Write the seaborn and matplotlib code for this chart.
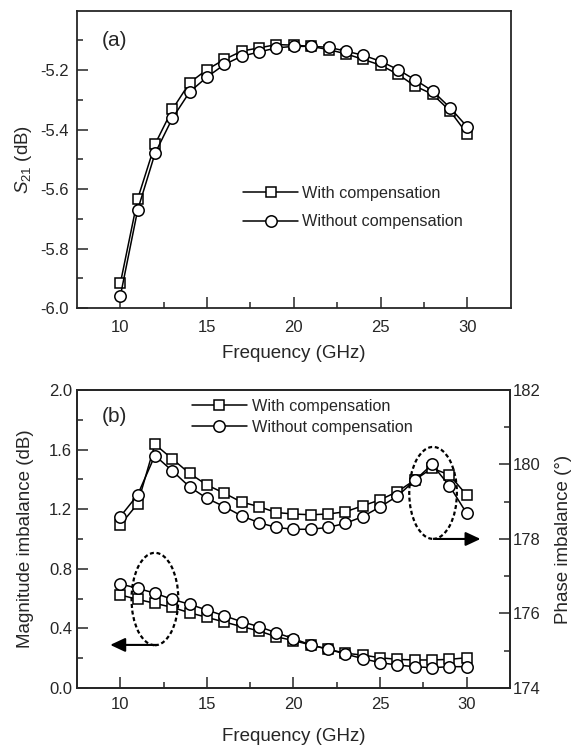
import numpy as np
import pandas as pd
import matplotlib
matplotlib.use("Agg")
import matplotlib.pyplot as plt
import seaborn as sns
from matplotlib.patches import Ellipse
from matplotlib.ticker import MultipleLocator, FixedLocator, FormatStrFormatter

# ---------------- data ----------------
freq = list(range(10, 31))

s21_with = [-5.917, -5.633, -5.449, -5.332, -5.242, -5.198, -5.164, -5.136, -5.125, -5.114,
            -5.116, -5.120, -5.131, -5.145, -5.164, -5.183, -5.214, -5.254, -5.281, -5.337, -5.415]
s21_without = [-5.960, -5.670, -5.480, -5.362, -5.273, -5.223, -5.181, -5.153, -5.139, -5.125,
               -5.120, -5.120, -5.123, -5.136, -5.150, -5.170, -5.198, -5.233, -5.270, -5.326, -5.391]

mag_with = [0.624, 0.595, 0.568, 0.541, 0.505, 0.474, 0.443, 0.412, 0.383, 0.344,
            0.318, 0.289, 0.260, 0.233, 0.221, 0.203, 0.192, 0.188, 0.188, 0.192, 0.203]
mag_without = [0.698, 0.669, 0.636, 0.595, 0.562, 0.523, 0.485, 0.445, 0.412, 0.371,
               0.331, 0.289, 0.260, 0.228, 0.197, 0.170, 0.154, 0.143, 0.136, 0.143, 0.143]

phase_with = [178.38, 178.94, 180.54, 180.15, 179.76, 179.45, 179.23, 178.99, 178.87, 178.71,
              178.67, 178.65, 178.67, 178.73, 178.89, 179.05, 179.27, 179.58, 179.90, 179.72, 179.18]
phase_without = [178.60, 179.18, 180.24, 179.83, 179.40, 179.09, 178.87, 178.62, 178.44, 178.31,
                 178.26, 178.26, 178.31, 178.42, 178.60, 178.86, 179.15, 179.57, 180.00, 179.43, 178.69]

labels = ["With compensation", "Without compensation"]

# ---------------- style ----------------
sns.set_style("ticks")
plt.rcParams["font.family"] = ["Liberation Sans", "DejaVu Sans"]
plt.rcParams["mathtext.fontset"] = "custom"
plt.rcParams["mathtext.rm"] = "Liberation Sans"
plt.rcParams["mathtext.it"] = "Liberation Sans:italic"
plt.rcParams["axes.unicode_minus"] = False
plt.rcParams["axes.linewidth"] = 1.3
plt.rcParams["xtick.direction"] = "in"
plt.rcParams["ytick.direction"] = "in"

TICK_FS = 12
LABEL_FS = 13.5
LEG_FS = 11.7

fig = plt.figure(figsize=(5.77, 7.47), dpi=100)
ax1 = fig.add_axes([0.1334, 0.5877, 0.7516, 0.3980])
ax = fig.add_axes([0.1334, 0.0790, 0.7504, 0.3990])

sq_kw = dict(marker="s", markersize=7.6, markerfacecolor="white", markeredgecolor="black",
             markeredgewidth=1.1, color="black", linewidth=1.1)
ci_kw = dict(marker="o", markersize=8.2, markerfacecolor="white", markeredgecolor="black",
             markeredgewidth=1.1, color="black", linewidth=1.1)

def style_ticks(a):
    a.tick_params(axis="both", which="major", length=8, width=1.1, labelsize=TICK_FS)
    a.tick_params(axis="both", which="minor", length=4, width=1.1)

# ---------------- panel (a) ----------------
df_a = pd.DataFrame({"f": freq, "with": s21_with, "without": s21_without})
sns.lineplot(data=df_a, x="f", y="with", ax=ax1, label=labels[0], legend=False, **sq_kw)
sns.lineplot(data=df_a, x="f", y="without", ax=ax1, label=labels[1], legend=False, **ci_kw)
ax1.set_xlim(7.5, 32.5)
ax1.set_ylim(-6.0, -5.0)
ax1.xaxis.set_major_locator(FixedLocator([10, 15, 20, 25, 30]))
ax1.xaxis.set_minor_locator(FixedLocator([12.5, 17.5, 22.5, 27.5]))
ax1.yaxis.set_major_locator(FixedLocator([-6.0, -5.8, -5.6, -5.4, -5.2]))
ax1.yaxis.set_minor_locator(FixedLocator([-5.9, -5.7, -5.5, -5.3, -5.1]))
ax1.yaxis.set_major_formatter(FormatStrFormatter("%.1f"))
style_ticks(ax1)
ax1.tick_params(top=False, right=False, which="both")
ax1.tick_params(axis="x", which="major", pad=9)
ax1.tick_params(axis="y", which="major", pad=6)
for sp in ax1.spines.values():
    sp.set_visible(True)
    sp.set_linewidth(1.3)
ax1.set_xlabel("Frequency (GHz)", fontsize=LABEL_FS, labelpad=7)
ax1.set_ylabel(r"$S_{21}$ (dB)", fontsize=LABEL_FS)
ax1.yaxis.set_label_coords(-0.10, 0.5)
ax1.text(0.057, 0.90, "(a)", transform=ax1.transAxes, fontsize=15, va="center", ha="left")
h, l = ax1.get_legend_handles_labels()
ax1.legend(h, l, loc="center left", bbox_to_anchor=(0.383, 0.338), frameon=False,
           fontsize=LEG_FS, handlelength=3.4, handletextpad=0.25, labelspacing=0.83,
           borderpad=0, borderaxespad=0)

# ---------------- panel (b) ----------------
df_b = pd.DataFrame({"f": freq, "mw": mag_with, "mo": mag_without,
                     "pw": phase_with, "po": phase_without})
ax2 = ax.twinx()
sns.lineplot(data=df_b, x="f", y="mw", ax=ax, label=labels[0], legend=False, **sq_kw)
sns.lineplot(data=df_b, x="f", y="mo", ax=ax, label=labels[1], legend=False, **ci_kw)
sns.lineplot(data=df_b, x="f", y="pw", ax=ax2, legend=False, **sq_kw)
sns.lineplot(data=df_b, x="f", y="po", ax=ax2, legend=False, **ci_kw)

ax.set_xlim(7.5, 32.5)
ax.set_ylim(0.0, 2.0)
ax2.set_ylim(174, 182)
ax.xaxis.set_major_locator(FixedLocator([10, 15, 20, 25, 30]))
ax.xaxis.set_minor_locator(FixedLocator([12.5, 17.5, 22.5, 27.5]))
ax.yaxis.set_major_locator(MultipleLocator(0.4))
ax.yaxis.set_minor_locator(MultipleLocator(0.2))
ax.yaxis.set_major_formatter(FormatStrFormatter("%.1f"))
ax2.yaxis.set_major_locator(MultipleLocator(2))
ax2.yaxis.set_minor_locator(MultipleLocator(1))
style_ticks(ax)
style_ticks(ax2)
ax.tick_params(top=False, right=False, which="both")
ax.tick_params(axis="x", which="major", pad=6.5)
ax2.tick_params(axis="y", which="both", right=True, left=False, pad=2)
for a in (ax, ax2):
    for sp in a.spines.values():
        sp.set_visible(True)
        sp.set_linewidth(1.3)
ax.set_xlabel("Frequency (GHz)", fontsize=LABEL_FS, labelpad=11.5)
ax.set_ylabel("Magnitude imbalance (dB)", fontsize=LABEL_FS)
ax.yaxis.set_label_coords(-0.10, 0.5)
ax2.set_ylabel("Phase imbalance (°)", fontsize=LABEL_FS)
ax2.yaxis.set_label_coords(1.104, 0.5)
ax.text(0.057, 0.912, "(b)", transform=ax.transAxes, fontsize=15, va="center", ha="left")

# ellipses and arrows
ell_kw = dict(fill=False, edgecolor="black", linewidth=1.6, linestyle=(0, (1.8, 1.2)))
ax.add_patch(Ellipse((12.0, 0.597), 2.7, 0.62, **ell_kw))
ax.add_patch(Ellipse((28.06, 1.309), 2.75, 0.617, **ell_kw))
arr = dict(arrowstyle="-|>,head_length=0.75,head_width=0.35", color="black", lw=1.5,
           shrinkA=0, shrinkB=0, mutation_scale=12)
ax.annotate("", xy=(9.42, 0.289), xytext=(12.1, 0.289), arrowprops=arr)
ax.annotate("", xy=(30.8, 1.0), xytext=(28.2, 1.0), arrowprops=arr)

h, l = ax.get_legend_handles_labels()
ax.legend(h, l, loc="center left", bbox_to_anchor=(0.265, 0.909), frameon=False,
          fontsize=LEG_FS, handlelength=3.4, handletextpad=0.3, labelspacing=0.38,
          borderpad=0, borderaxespad=0)

fig.savefig("out.png", dpi=100)
